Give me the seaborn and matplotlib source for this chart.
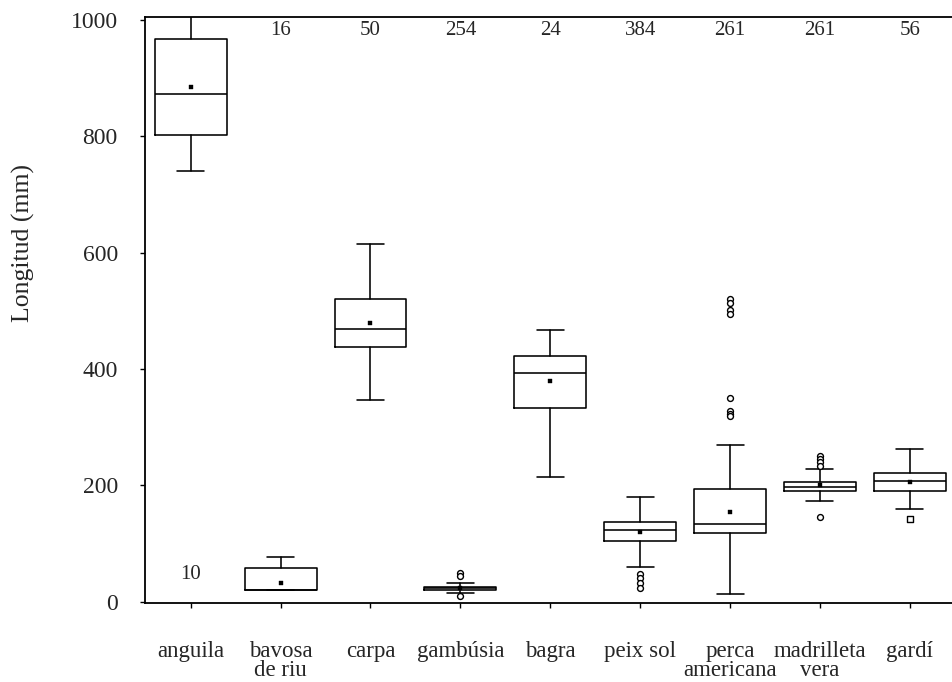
import matplotlib
matplotlib.use("Agg")
import matplotlib.pyplot as plt
import seaborn as sns
import pandas as pd

# Length summary per species (mm)
species = ["anguila", "bavosa\nde riu", "carpa", "gambúsia", "bagra",
           "peix sol", "perca\namericana", "madrilleta\nvera", "gardí"]
counts = [10, 16, 50, 254, 24, 384, 261, 261, 56]
q1 = [802, 20, 438, 20, 333, 104, 118, 190, 191]
medians = [873, 20, 468, 23, 393, 123, 133, 197, 207]
q3 = [967, 58, 521, 26, 422, 137, 193, 205, 222]
whisker_low = [740, 20, 347, 15, 215, 60, 14, 173, 159]
whisker_high = [1050, 77, 615, 32, 467, 180, 270, 229, 263]
means = [884, 32, 479, 23, 379, 119, 154, 200, 205]
outliers = [
    [],
    [],
    [],
    [50, 44, 10],
    [],
    [48, 41, 32, 24],
    [521, 514, 501, 494, 350, 328, 323, 320],
    [250, 246, 241, 234, 145],
    [142],
]
yticks = [0, 200, 400, 600, 800, 1000]

sns.set_style("ticks")
plt.rcParams["font.family"] = ["Liberation Serif", "DejaVu Serif"]

fig = plt.figure(figsize=(9.53, 6.82), dpi=100)
ax = fig.add_axes([0.152, 0.116, 0.848, 0.859])

stats = []
for i, name in enumerate(species):
    stats.append(dict(label=name, q1=q1[i], med=medians[i], q3=q3[i],
                      whislo=whisker_low[i], whishi=whisker_high[i],
                      mean=means[i], fliers=[]))

line = dict(color="black", linewidth=1.15)
ax.bxp(stats, positions=range(len(species)), widths=0.8, showfliers=False,
       showmeans=False, boxprops=line, medianprops=line, whiskerprops=line,
       capprops=line, capwidths=0.3, manage_ticks=False)

# Means as small filled squares
mean_df = pd.DataFrame({"x": range(len(species)), "y": means})
sns.scatterplot(data=mean_df, x="x", y="y", marker="s", s=12, color="black",
                edgecolor="black", ax=ax, zorder=5)

# Outliers as open markers (squares for gardí)
rows = []
for i, vals in enumerate(outliers):
    for v in vals:
        rows.append({"x": i, "y": v, "kind": "sq" if species[i] == "gardí" else "o"})
out_df = pd.DataFrame(rows)
for kind, mk in [("o", "o"), ("sq", "s")]:
    sub = out_df[out_df["kind"] == kind]
    sns.scatterplot(data=sub, x="x", y="y", marker=mk, s=18,
                    facecolor="white", edgecolor="black", linewidth=1.0,
                    ax=ax, zorder=6)

# Sample sizes
for i, n in enumerate(counts):
    ypos = 46 if i == 0 else 982
    ax.text(i, ypos, str(n), ha="center", va="center", fontsize=15)

ax.set_xlim(-0.51, 8.48)
ax.set_ylim(-2, 1005)
ax.set_xticks(range(len(species)))
ax.set_xticklabels(species, fontsize=16.5, linespacing=0.85)
ax.set_yticks(yticks)
ax.set_yticklabels([str(t) for t in yticks], fontsize=17)
ax.set_xlabel("")
ax.set_ylabel("Longitud (mm)", fontsize=18.5)
ax.yaxis.set_label_coords(-0.136, 0.614)
ax.tick_params(axis="both", direction="out", length=3.5, width=1.0, color="black")
ax.tick_params(axis="x", pad=24)
ax.tick_params(axis="y", pad=16)
for side in ["left", "bottom", "top"]:
    ax.spines[side].set_linewidth(1.3)
    ax.spines[side].set_color("black")
ax.spines["right"].set_visible(False)

fig.savefig("out.png", dpi=100, facecolor="white")
